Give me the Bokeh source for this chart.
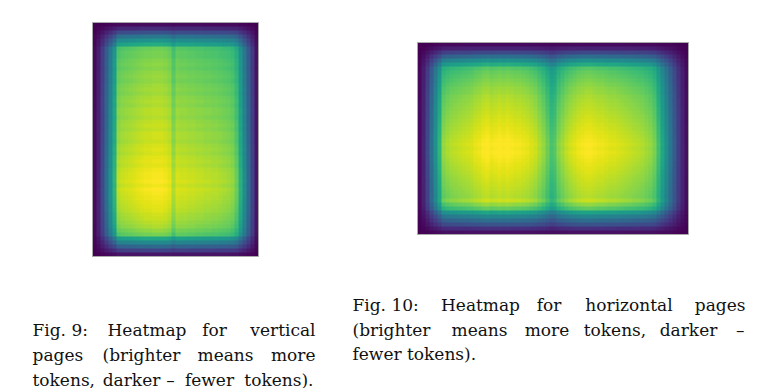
import numpy as np
from bokeh.plotting import figure
from bokeh.models import Range1d, LinearColorMapper
from bokeh.palettes import Viridis256
from bokeh.core.properties import value
from bokeh.embed import file_html
from bokeh.resources import INLINE

# ---- data (relative token density profiles) ----
# vertical pages: column profile (left -> right) and row profile (top -> bottom)
v_cols = [0.03, 0.10, 0.22, 0.36, 0.50, 0.64,
          0.88,
          0.90, 0.91, 0.92, 0.93, 0.94, 0.95, 0.96, 0.96, 0.97, 0.97, 0.97, 0.96, 0.94,
          0.86,
          0.92, 0.91, 0.91, 0.90, 0.90, 0.89, 0.89, 0.88, 0.88, 0.87, 0.87, 0.86, 0.85, 0.84, 0.82,
          0.76, 0.62, 0.48, 0.34, 0.20, 0.06]
v_rows = [0.03, 0.12, 0.25, 0.40, 0.52, 0.62,
          0.78, 0.80, 0.80, 0.82, 0.83, 0.82, 0.84, 0.85, 0.84, 0.86,
          0.87, 0.86, 0.88, 0.89, 0.88, 0.90, 0.90, 0.89, 0.91, 0.92,
          0.91, 0.93, 0.93, 0.92, 0.94, 0.95, 0.94, 0.96, 0.97, 0.96,
          0.98, 0.99, 0.99, 1.00, 0.98, 1.00, 0.99, 0.98, 0.97, 0.96,
          0.95, 0.93, 0.92, 0.90, 0.88, 0.84, 0.80,
          0.60, 0.48, 0.34, 0.20, 0.06]

# horizontal pages
h_cols = [0.03, 0.10, 0.22, 0.36, 0.50, 0.64,
          0.82, 0.85, 0.87, 0.88, 0.89, 0.90, 0.91, 0.92, 0.94, 0.95, 0.97, 0.98, 0.96,
          0.97, 0.98, 0.97, 0.98, 0.97, 0.96, 0.96, 0.95, 0.94, 0.92, 0.90, 0.86, 0.82,
          0.76, 0.70, 0.72, 0.80,
          0.84, 0.88, 0.91, 0.93, 0.95, 0.96, 0.97, 0.97, 0.96, 0.95, 0.95, 0.94,
          0.93, 0.93, 0.92, 0.91, 0.90, 0.89, 0.88, 0.87, 0.86, 0.84, 0.82, 0.78,
          0.68, 0.58, 0.48, 0.38, 0.28, 0.18, 0.10, 0.04]
h_rows = [0.03, 0.10, 0.22, 0.36, 0.50, 0.62,
          0.74, 0.77, 0.79, 0.81, 0.83, 0.85, 0.86, 0.88, 0.89, 0.90,
          0.91, 0.92, 0.93, 0.94, 0.95, 0.96, 0.97, 0.98, 0.99, 1.00,
          0.99, 1.00, 0.99, 0.98, 0.97, 0.96, 0.95, 0.94, 0.93, 0.92,
          0.91, 0.90, 0.89, 0.92, 0.84, 0.76,
          0.58, 0.46, 0.36, 0.26, 0.14, 0.05]

# captions, one list of words per justified line
cap9_lines = [["Fig. 9:", "Heatmap", "for", "vertical"],
              ["pages", "(brighter", "means", "more"],
              ["tokens,", "darker", "–", "fewer", "tokens)."]]
cap10_lines = [["Fig. 10:", "Heatmap", "for", "horizontal", "pages"],
               ["(brighter", "means", "more", "tokens,", "darker", "–"],
               ["fewer tokens)."]]

# ---- layout ----
W, H = 760, 388
p = figure(width=W, height=H, x_range=Range1d(0, W), y_range=Range1d(0, H),
           output_backend="svg", toolbar_location=None, min_border=0)
p.axis.visible = False
p.grid.visible = False
p.outline_line_color = None
p.background_fill_color = "white"
p.border_fill_color = "white"

mapper = LinearColorMapper(palette=Viridis256, low=0, high=0.97)


def sx(X):
    return X


def sy(Y):
    return H - Y


def heat(cols, rows, X0, Y0, X1, Y1):
    grid = np.outer(np.array(rows), np.array(cols))
    img = grid[::-1]
    p.image(image=[img], x=sx(X0), y=sy(Y1), dw=X1 - X0, dh=Y1 - Y0, color_mapper=mapper)
    p.quad(left=sx(X0), right=sx(X1), bottom=sy(Y1), top=sy(Y0),
           fill_color=None, line_color="#a8a8a8", line_width=1)


heat(v_cols, v_rows, 92, 22, 258, 256)
heat(h_cols, h_rows, 417, 42, 688, 234)

# word anchors: first word left edge, middle words centre, last word right edge
cap9_left = 32
cap9_right_x = [315, 315, 313]
cap9_mid = [[146.5, 214], [141, 225], [131, 170, 209]]
cap9_y = [329, 354, 379]
cap10_left = 352
cap10_right_x = [745, 744, None]
cap10_mid = [[480, 548.5, 628.5], [479, 546.5, 614.5, 688], []]
cap10_y = [304, 329, 353]

L = {"x": [], "y": [], "t": []}
C = {"x": [], "y": [], "t": []}
R = {"x": [], "y": [], "t": []}


def add(d, x, y, t):
    d["x"].append(sx(x)); d["y"].append(sy(y)); d["t"].append(t)


for lines, left, rights, mids, ys in (
        (cap9_lines, cap9_left, cap9_right_x, cap9_mid, cap9_y),
        (cap10_lines, cap10_left, cap10_right_x, cap10_mid, cap10_y)):
    for words, rx, mx, yb in zip(lines, rights, mids, ys):
        add(L, left, yb, words[0])
        if len(words) > 1:
            for w, xc in zip(words[1:-1], mx):
                add(C, xc, yb, w)
            add(R, rx, yb, words[-1])

for d, align in ((L, "left"), (C, "center"), (R, "right")):
    p.text(x=d["x"], y=d["y"], text=d["t"], text_font=value("DejaVu Serif"),
           text_font_size="17px", text_color="#111111", text_align=align,
           text_baseline="alphabetic")

open("out.html", "w").write(file_html(p, INLINE))
